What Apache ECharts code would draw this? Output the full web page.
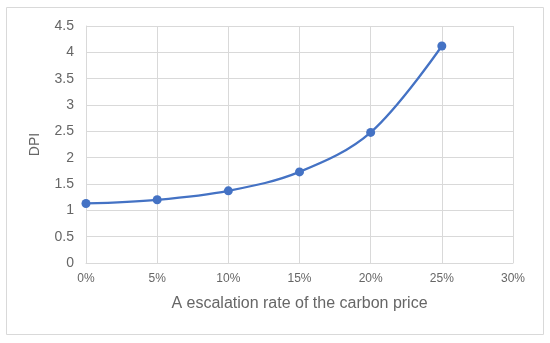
<!DOCTYPE html>
<html>
<head>
<meta charset="utf-8">
<script src="https://cdn.jsdelivr.net/npm/echarts@6/dist/echarts.min.js"></script>
<style>html,body{margin:0;padding:0;background:#fff;}#c{width:550px;height:343px;}</style>
</head>
<body>
<div id="c"></div>
<script>
const rates = [0, 5, 10, 15, 20, 25];
const dpi = [1.13, 1.2, 1.37, 1.73, 2.48, 4.12];
const xTitle = 'A escalation rate of the carbon price';
const yTitle = 'DPI';

const chart = echarts.init(document.getElementById('c'));
const txt = '#666666';
const font = 'Liberation Sans';
chart.setOption({
  animation: false,
  graphic: [{
    type: 'rect', shape: {x: 6.5, y: 7.5, width: 537, height: 327},
    style: {fill: 'none', stroke: '#d9d9d9', lineWidth: 1}, z: -1
  }],
  grid: {left: 86, right: 37, top: 26, bottom: 80},
  xAxis: {
    type: 'value', min: 0, max: 30, interval: 5,
    name: xTitle, nameLocation: 'middle', nameGap: 33,
    nameTextStyle: {color: txt, fontSize: 16, fontFamily: font},
    axisLine: {show: true, lineStyle: {color: '#d9d9d9'}},
    axisTick: {show: false},
    splitLine: {show: true, lineStyle: {color: '#d9d9d9'}},
    axisLabel: {color: txt, fontSize: 12, fontFamily: font, margin: 10, formatter: '{value}%'}
  },
  yAxis: {
    type: 'value', min: 0, max: 4.5, interval: 0.5,
    name: yTitle, nameLocation: 'middle', nameGap: 44,
    nameTextStyle: {color: txt, fontSize: 14, fontFamily: font},
    axisLine: {show: true, lineStyle: {color: '#d9d9d9'}},
    axisTick: {show: false},
    splitLine: {show: true, lineStyle: {color: '#d9d9d9'}},
    axisLabel: {color: txt, fontSize: 14, fontFamily: font, margin: 12}
  },
  series: [{
    type: 'line',
    data: rates.map((r, i) => [r, dpi[i]]),
    smooth: 0.35,
    symbol: 'circle', symbolSize: 9,
    lineStyle: {color: '#4472C4', width: 2.25},
    itemStyle: {color: '#4472C4'}
  }]
});
</script>
</body>
</html>
